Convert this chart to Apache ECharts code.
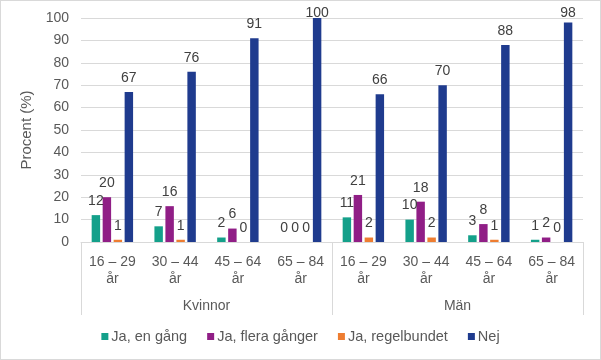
<!DOCTYPE html>
<html><head><meta charset="utf-8">
<script src="https://cdn.jsdelivr.net/npm/echarts@6/dist/echarts.min.js"></script>
<style>html,body{margin:0;padding:0;background:#fff}#c{width:601px;height:360px;box-sizing:border-box;border:1px solid #d9d9d9}</style>
</head><body><div id="c"></div>
<script>
const categories = ['16 – 29\når','30 – 44\når','45 – 64\når','65 – 84\når','16 – 29\når','30 – 44\når','45 – 64\når','65 – 84\når'];
const groups = ['Kvinnor','Män'];
const seriesNames = ['Ja, en gång','Ja, flera gånger','Ja, regelbundet','Nej'];
const jaEnGang = [12,7,2,0,11,10,3,1];
const jaFlera = [20,16,6,0,21,18,8,2];
const jaRegel = [1,1,0,0,2,2,1,0];
const nej = [67,76,91,100,66,70,88,98];
const yTicks = {min:0,max:100,interval:10};
const colors = ['#14A08A','#901E86','#EE7D31','#1F3B8E'];
const font = 'Liberation Sans, Arial, sans-serif';
const chart = echarts.init(document.getElementById('c'));
const values = [jaEnGang, jaFlera, jaRegel, nej];
const labelMinTop = 5;
chart.setOption({
  animation:false,
  textStyle:{fontFamily:font},
  grid:{left:80,right:17,top:17,bottom:117,containLabel:false},
  xAxis:[{
    type:'category', data:categories, gridIndex:0, position:'bottom',
    axisLine:{show:true,lineStyle:{color:'#d9d9d9'}},
    axisTick:{show:false},
    axisLabel:{interval:0,color:'#595959',fontSize:14,lineHeight:17,margin:12,fontFamily:font}
  },{
    type:'category', data:groups, gridIndex:0, position:'bottom',
    axisLine:{show:false},
    axisTick:{show:true,interval:0,length:73,inside:false,lineStyle:{color:'#d9d9d9'}},
    axisLabel:{interval:0,color:'#595959',fontSize:14,margin:57,fontFamily:font},
    splitLine:{show:false}
  }],
  yAxis:{
    type:'value', min:yTicks.min, max:yTicks.max, interval:yTicks.interval,
    name:'Procent (%)', nameLocation:'middle', nameGap:43,
    nameTextStyle:{color:'#595959',fontSize:15,fontFamily:font},
    axisLine:{show:false}, axisTick:{show:false},
    axisLabel:{color:'#595959',fontSize:14,margin:12,fontFamily:font},
    splitLine:{lineStyle:{color:'#d9d9d9'}}
  },
  legend:{
    bottom:10, left:'center', itemWidth:7, itemHeight:7, itemGap:20, icon:'rect',
    textStyle:{color:'#595959',fontSize:14.5,fontFamily:font,padding:[0,0,0,-2]},
    data:seriesNames
  },
  series: seriesNames.map((n,i)=>({
    name:n, type:'bar',
    data:values[i],
    xAxisIndex:0,
    itemStyle:{color:colors[i]},
    barGap:'30%', barCategoryGap:'34%',
    label:{show:true,position:'top',color:'#404040',fontSize:14,distance:7,fontFamily:font},
    labelLayout: p => ({dy: Math.max(0, labelMinTop - p.labelRect.y)})
  }))
});
</script></body></html>
